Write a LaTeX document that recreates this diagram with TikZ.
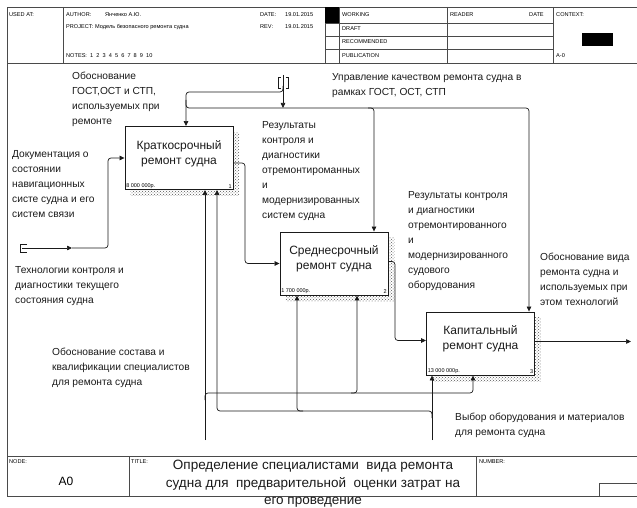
\documentclass[tikz,border=0pt]{standalone}
\usepackage{fontspec}
\setmainfont{Liberation Sans}
\usepackage{tikz}
\usetikzlibrary{arrows.meta,calc,patterns,backgrounds}
\definecolor{idefink}{HTML}{1A1A1A}
\definecolor{idefframe}{HTML}{4A4A4A}
\definecolor{idefshade}{HTML}{555555}
\tikzset{
  actbox/.style={draw=idefink, fill=white, line width=0.9pt, minimum width=108pt, minimum height=63pt, inner sep=0pt},
  acttitle/.style={align=center, font=\fontsize{12}{15}\selectfont, inner sep=0pt, text=idefink},
  actcost/.style={anchor=south west, font=\fontsize{5.5}{6}\selectfont, inner sep=1.5pt},
  actnum/.style={anchor=south east, font=\fontsize{5.5}{6}\selectfont, inner sep=1.5pt},
  shadebox/.style={pattern=crosshatch dots, pattern color=idefshade},
  arrowlabel/.style={anchor=north west, align=left, font=\fontsize{10.2}{15}\selectfont, inner sep=0pt, text=idefink},
  hdrtext/.style={anchor=west, font=\fontsize{5.6}{7}\selectfont, inner sep=0pt},
  framerule/.style={draw=idefframe, line width=0.8pt},
  flow/.style={-{Triangle[length=5pt,width=4.5pt]}, draw=idefink, line width=0.7pt, rounded corners=3pt},
  tunnel/.style={draw=idefink, line width=0.6pt}
}
\begin{document}
\begin{tikzpicture}[x=1pt, y=-1pt]
  \useasboundingbox (0,0) rectangle (637,508);

  \draw[framerule] (637,7) -- (7,7) -- (7,496) -- (637,496);
  \draw[framerule] (7,63) -- (637,63);
  \draw[framerule] (7,456) -- (637,456);
  \foreach \x in {63,325,339,447,553}
    \draw[framerule] (\x,7) -- (\x,63);
  \foreach \y in {23,36,49}
    \draw[framerule] (325,\y) -- (553,\y);
  \fill[black] (325,7) rectangle (339,23);
  \fill[black] (582,33) rectangle (613,46);
  \draw[framerule] (129,456) -- (129,496);
  \draw[framerule] (476,456) -- (476,496);
  \draw[framerule] (599,496) -- (599,483) -- (637,483);

  \node[hdrtext] (usedat) at (9,15) {USED AT:};
  \node[hdrtext] (author) at (66,15) {AUTHOR:};
  \node[hdrtext] (authorv) at (105,15) {Янченко А.Ю.};
  \node[hdrtext] (project) at (66,27) {PROJECT:};
  \node[hdrtext] (projectv) at (95,27) {Модель безопасного ремонта судна};
  \node[hdrtext] (notes) at (66,56) {NOTES:\ \ 1\ \ 2\ \ 3\ \ 4\ \ 5\ \ 6\ \ 7\ \ 8\ \ 9\ \ 10};
  \node[hdrtext] (date) at (260,15) {DATE:};
  \node[hdrtext] (datev) at (285,15) {19.01.2015};
  \node[hdrtext] (rev) at (260,27) {REV:};
  \node[hdrtext] (revv) at (285,27) {19.01.2015};
  \node[hdrtext] (working) at (342,15) {WORKING};
  \node[hdrtext] (draft) at (342,29) {DRAFT};
  \node[hdrtext] (recommended) at (342,42) {RECOMMENDED};
  \node[hdrtext] (publication) at (342,56) {PUBLICATION};
  \node[hdrtext] (reader) at (450,15) {READER};
  \node[hdrtext] (readerdate) at (529,15) {DATE};
  \node[hdrtext] (context) at (556,15) {CONTEXT:};
  \node[hdrtext] (contextnum) at (556,56) {A-0};

  \node[hdrtext] (nodelbl) at (9,462) {NODE:};
  \node[font=\fontsize{12}{14}\selectfont, inner sep=0pt] (nodeid) at (66,481) {A0};
  \node[hdrtext] (titlelbl) at (131,462) {TITLE:};
  \node[anchor=north, align=center, font=\fontsize{13.5}{17.5}\selectfont, inner sep=0pt, text=idefink] (diagtitle) at (313,460)
    {Определение специалистами \ вида ремонта\\судна для \ предварительной \ оценки затрат на\\его проведение};
  \node[hdrtext] (numberlbl) at (479,462) {NUMBER:};

  \node[actbox] (k1) at (179,158) {};
  \node[actbox] (k2) at (334,263.5) {};
  \node[actbox] (k3) at (480.5,343.5) {};
  \begin{scope}[on background layer]
    \foreach \k in {k1,k2,k3}
      \fill[shadebox] ($(\k.south west)+(6,6)$) rectangle ($(\k.north east)+(6,6)$);
  \end{scope}
  \node[acttitle] (k1t) at ($(k1.center)+(0,-4.7)$) {Краткосрочный\\ремонт судна};
  \node[acttitle] (k2t) at ($(k2.center)+(0,-4.7)$) {Среднесрочный\\ремонт судна};
  \node[acttitle] (k3t) at ($(k3.center)+(0,-4.7)$) {Капитальный\\ремонт судна};
  \node[actcost] (k1c) at (k1.south west) {8 000 000р.};
  \node[actcost] (k2c) at (k2.south west) {1 700 000р.};
  \node[actcost] (k3c) at (k3.south west) {13 000 000р.};
  \node[actnum] (k1n) at (k1.south east) {1};
  \node[actnum] (k2n) at (k2.south east) {2};
  \node[actnum] (k3n) at (k3.south east) {3};

  \coordinate (in1) at (22,248);
  \coordinate (in1mid) at (72,248);
  \draw[tunnel] (27,244) -- (20,244) -- (20,252) -- (27,252);
  \draw[flow] (in1) -- (in1mid);
  \draw[flow] (in1mid) -- (108,248) -- (108,158) -- (k1.west);

  \coordinate (ctl) at (283,75);
  \coordinate (bus) at (283,108);
  \coordinate (c1) at (186,92);
  \coordinate (c2) at (374,108);
  \coordinate (c3) at (529,108);
  \draw[tunnel] (280.5,77) -- (278,77) -- (278,88) -- (280.5,88);
  \draw[tunnel] (285.5,77) -- (288,77) -- (288,88) -- (285.5,88);
  \draw[flow] (ctl) -- (bus);
  \draw[flow] ($(ctl)+(0,11)$) -- ($(ctl)+(0,17)$) -- (c1) -- (c1 |- k1.north);
  \draw[flow] ($(c1 |- bus)+(0,-8)$) -- (c1 |- bus) -- (c3) -- (c3 |- k3.north);
  \draw[flow] ($(c2)+(-6,0)$) -- (c2) -- (c2 |- k2.north);

  \coordinate (o1) at (245,163);
  \coordinate (o2) at (395,261.5);
  \coordinate (out3) at (631,341.5);
  \draw[flow] ($(k1.east)+(0,5)$) -- (o1) -- (o1 |- k2.west) -- (k2.west);
  \draw[flow] ($(k2.east)+(0,-2)$) -- (o2) -- (395,340.5) -- ($(k3.west)+(0,-3)$);
  \draw[flow] ($(k3.east)+(0,-2)$) -- (out3);

  \coordinate (m1) at (205,440);
  \coordinate (m2) at (432,440);
  \coordinate (b1) at (205,393);
  \coordinate (b1m) at (357,393);
  \coordinate (b1r) at (473,393);
  \coordinate (b2) at (432,411);
  \coordinate (b2m) at (297,411);
  \coordinate (b2l) at (217,411);
  \draw[flow] (m1) -- (m1 |- k1.south);
  \draw[flow] (m2) -- (m2 |- k3.south);
  \draw[flow] ($(b1)+(0,7)$) -- (b1) -- (b1r) -- (b1r |- k3.south);
  \draw[flow] ($(b1m)+(-6,0)$) -- (b1m) -- (b1m |- k2.south);
  \draw[flow] ($(b2)+(0,7)$) -- (b2) -- (b2l) -- (b2l |- k1.south);
  \draw[flow] ($(b2m)+(6,0)$) -- (b2m) -- (b2m |- k2.south);

  \node[arrowlabel] (lgost) at (72,72) {Обоснование\\ГОСТ,ОСТ и СТП,\\используемых при\\ремонте};
  \node[arrowlabel] (ldoc) at (12,150) {Документация о\\состоянии\\навигационных\\систе судна и его\\систем связи};
  \node[arrowlabel] (ltech) at (15,266.5) {Технологии контроля и\\диагностики текущего\\состояния судна};
  \node[arrowlabel] (lquality) at (332,73) {Управление качеством ремонта судна в\\рамках ГОСТ, ОСТ, СТП};
  \node[arrowlabel] (lres1) at (262,121.5) {Результаты\\контроля и\\диагностики\\отремонтироманных\\и\\модернизированных\\систем судна};
  \node[arrowlabel] (lres2) at (408,191.5) {Результаты контроля\\и диагностики\\отремонтированного\\и\\модернизированного\\судового\\оборудования};
  \node[arrowlabel] (lkind) at (540,253) {Обоснование вида\\ремонта судна и\\используемых при\\этом технологий};
  \node[arrowlabel] (lstaff) at (52,347.5) {Обоснование состава и\\квалификации специалистов\\для ремонта судна};
  \node[arrowlabel] (lequip) at (455,413) {Выбор оборудования и материалов\\для ремонта судна};
\end{tikzpicture}
\end{document}
